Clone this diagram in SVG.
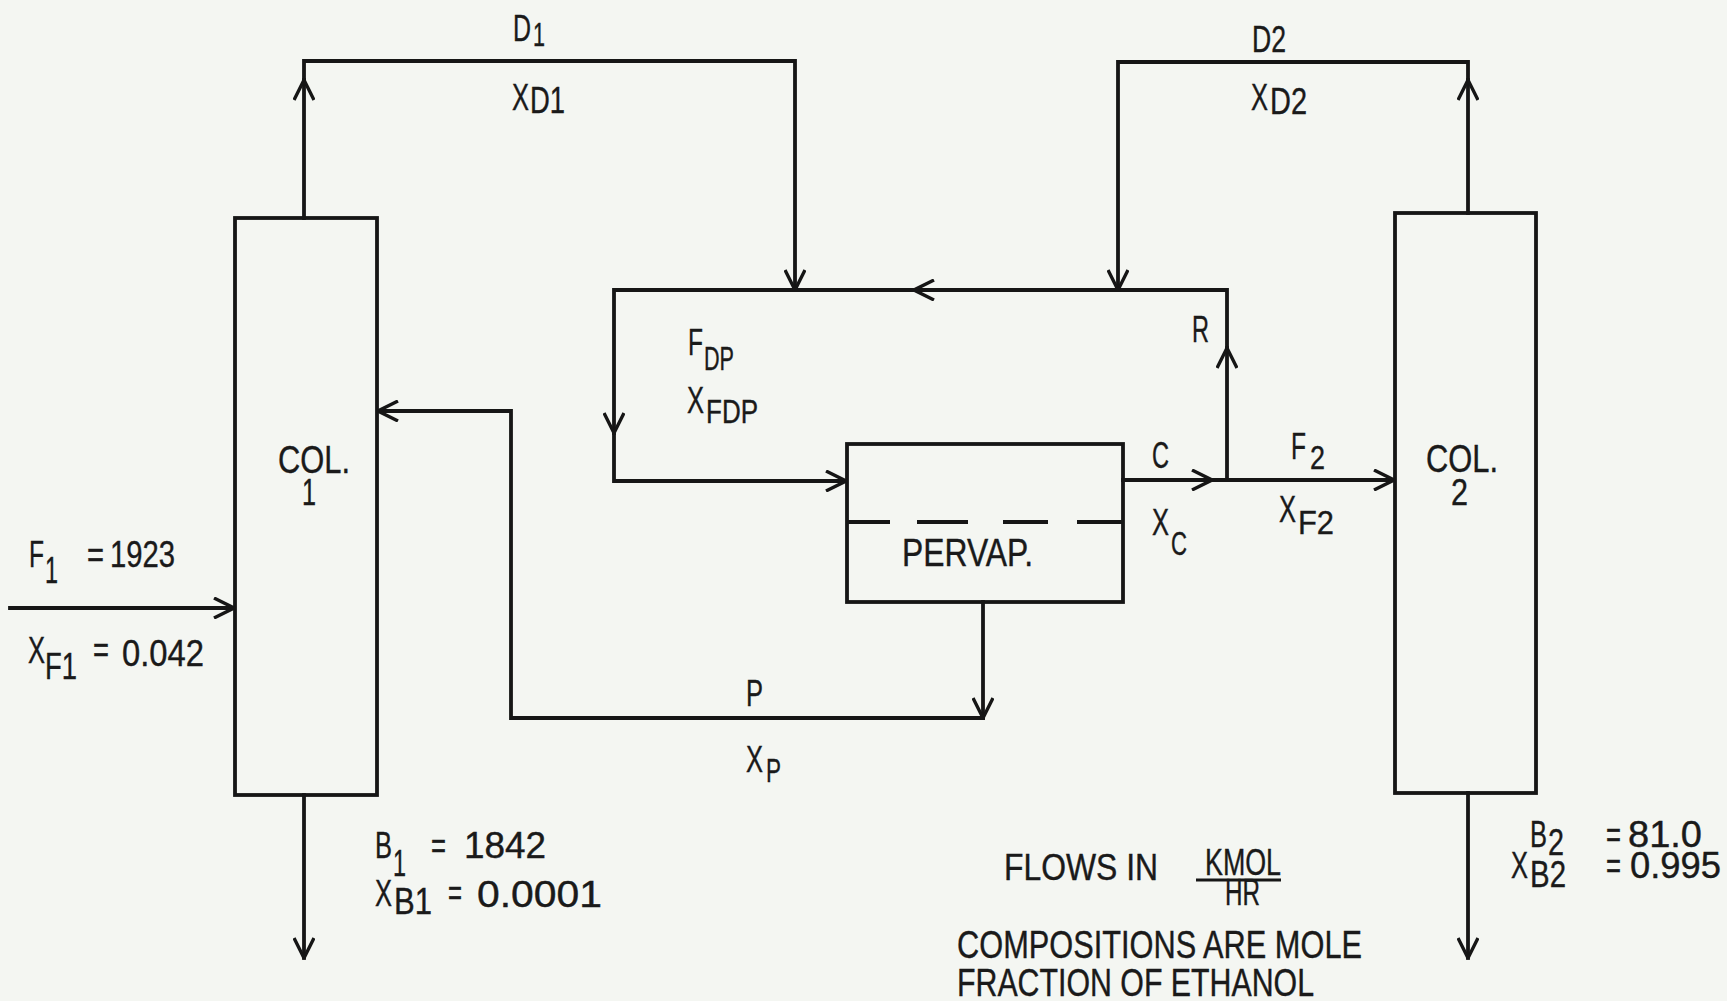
<svg xmlns="http://www.w3.org/2000/svg" width="1727" height="1001" viewBox="0 0 1727 1001">
<style>
.ln{fill:none;stroke:#161616;stroke-width:3.8;stroke-linejoin:miter;stroke-linecap:square}
.box{fill:none;stroke:#161616;stroke-width:3.8}
.t{font-family:"Liberation Sans Narrow","Liberation Sans",Arial,sans-serif;fill:#1a1a1a;font-size:36px;stroke:#1a1a1a;stroke-width:0.4}
.s{font-size:34px}
.big{font-size:39px}
</style>
<defs>
<marker id="arr" viewBox="0 0 22 22" refX="21" refY="11" markerWidth="22" markerHeight="22" markerUnits="userSpaceOnUse" orient="auto">
<path d="M1,1 L21,11 L1,21" fill="none" stroke="#161616" stroke-width="3.4"/>
</marker>
</defs>
<rect width="1727" height="1001" fill="#f4f6f2"/>

<g id="connectors">
<path class="ln" d="M304,218 V80" marker-end="url(#arr)"/>
<path class="ln" d="M304,80 V61 H795 V290" marker-end="url(#arr)"/>
<path class="ln" d="M1468,213 V80" marker-end="url(#arr)"/>
<path class="ln" d="M1468,80 V62 H1118 V290" marker-end="url(#arr)"/>
<path class="ln" d="M1227,480 V348" marker-end="url(#arr)"/>
<path class="ln" d="M1227,348 V290 H914" marker-end="url(#arr)"/>
<path class="ln" d="M914,290 H614 V433" marker-end="url(#arr)"/>
<path class="ln" d="M614,433 V481 H846" marker-end="url(#arr)"/>
<path class="ln" d="M1123,480 H1212" marker-end="url(#arr)"/>
<path class="ln" d="M1212,480 H1394" marker-end="url(#arr)"/>
<path class="ln" d="M983,602 V718" marker-end="url(#arr)"/>
<path class="ln" d="M983,718 H511 V411 H378" marker-end="url(#arr)"/>
<path class="ln" d="M10,608 H234" marker-end="url(#arr)"/>
<path class="ln" d="M304,795 V958" marker-end="url(#arr)"/>
<path class="ln" d="M1468,793 V958" marker-end="url(#arr)"/>
</g>

<g id="col1">
<rect class="box" x="235" y="218" width="142" height="577"/>
<text class="t big" x="278" y="473" textLength="72" lengthAdjust="spacingAndGlyphs">COL.</text>
<text class="t" x="302" y="505" textLength="14" lengthAdjust="spacingAndGlyphs">1</text>
</g>

<g id="col2">
<rect class="box" x="1395" y="213" width="141" height="580"/>
<text class="t big" x="1426" y="472" textLength="72" lengthAdjust="spacingAndGlyphs">COL.</text>
<text class="t" x="1451" y="505" textLength="17" lengthAdjust="spacingAndGlyphs">2</text>
</g>

<g id="pervap">
<rect class="box" x="847" y="444" width="276" height="158"/>
<path d="M847,522 H1123" fill="none" stroke="#161616" stroke-width="3.8" stroke-dasharray="43 27 51 35 45 29 46"/>
<text class="t big" x="902" y="566" textLength="131" lengthAdjust="spacingAndGlyphs">PERVAP.</text>
</g>

<g id="labels">
<text class="t" x="513" y="41" textLength="18" lengthAdjust="spacingAndGlyphs">D</text>
<text class="t s" x="533" y="46" textLength="12" lengthAdjust="spacingAndGlyphs">1</text>
<text class="t" x="512" y="110" textLength="17" lengthAdjust="spacingAndGlyphs">X</text>
<text class="t" x="530" y="113" textLength="35" lengthAdjust="spacingAndGlyphs">D1</text>

<text class="t" x="1252" y="52" textLength="34" lengthAdjust="spacingAndGlyphs">D2</text>
<text class="t" x="1251" y="110" textLength="17" lengthAdjust="spacingAndGlyphs">X</text>
<text class="t" x="1270" y="114" textLength="37" lengthAdjust="spacingAndGlyphs">D2</text>

<text class="t" x="688" y="355" textLength="15" lengthAdjust="spacingAndGlyphs">F</text>
<text class="t s" x="704" y="370" textLength="30" lengthAdjust="spacingAndGlyphs">DP</text>
<text class="t" x="687" y="413" textLength="17" lengthAdjust="spacingAndGlyphs">X</text>
<text class="t s" x="706" y="423" textLength="52" lengthAdjust="spacingAndGlyphs">FDP</text>

<text class="t" x="1192" y="342" textLength="17" lengthAdjust="spacingAndGlyphs">R</text>

<text class="t" x="1152" y="468" textLength="17" lengthAdjust="spacingAndGlyphs">C</text>
<text class="t" x="1152" y="535" textLength="17" lengthAdjust="spacingAndGlyphs">X</text>
<text class="t s" x="1171" y="555" textLength="16" lengthAdjust="spacingAndGlyphs">C</text>

<text class="t" x="1291" y="459" textLength="15" lengthAdjust="spacingAndGlyphs">F</text>
<text class="t s" x="1310" y="469" textLength="15" lengthAdjust="spacingAndGlyphs">2</text>
<text class="t" x="1279" y="522" textLength="17" lengthAdjust="spacingAndGlyphs">X</text>
<text class="t s" x="1298" y="534" textLength="36" lengthAdjust="spacingAndGlyphs">F2</text>

<text class="t" x="746" y="706" textLength="17" lengthAdjust="spacingAndGlyphs">P</text>
<text class="t" x="746" y="772" textLength="17" lengthAdjust="spacingAndGlyphs">X</text>
<text class="t s" x="766" y="782" textLength="15" lengthAdjust="spacingAndGlyphs">P</text>

<text class="t" x="29" y="567" textLength="15" lengthAdjust="spacingAndGlyphs">F</text>
<text class="t" x="45" y="583" textLength="13" lengthAdjust="spacingAndGlyphs">1</text>
<text class="t" x="87" y="567" textLength="17" lengthAdjust="spacingAndGlyphs">=</text>
<text class="t" x="110" y="567" textLength="65" lengthAdjust="spacingAndGlyphs">1923</text>
<text class="t" x="28" y="663" textLength="17" lengthAdjust="spacingAndGlyphs">X</text>
<text class="t" x="45" y="679" textLength="32" lengthAdjust="spacingAndGlyphs">F1</text>
<text class="t" x="93" y="662" textLength="16" lengthAdjust="spacingAndGlyphs">=</text>
<text class="t" x="122" y="666" textLength="82" lengthAdjust="spacingAndGlyphs">0.042</text>

<text class="t" x="375" y="858" textLength="17" lengthAdjust="spacingAndGlyphs">B</text>
<text class="t" x="393" y="876" textLength="13" lengthAdjust="spacingAndGlyphs">1</text>
<text class="t" x="431" y="858" textLength="15" lengthAdjust="spacingAndGlyphs">=</text>
<text class="t" x="464" y="858" textLength="82" lengthAdjust="spacingAndGlyphs">1842</text>
<text class="t" x="375" y="906" textLength="17" lengthAdjust="spacingAndGlyphs">X</text>
<text class="t" x="394" y="914" textLength="38" lengthAdjust="spacingAndGlyphs">B1</text>
<text class="t" x="448" y="905" textLength="14" lengthAdjust="spacingAndGlyphs">=</text>
<text class="t" x="477" y="907" textLength="125" lengthAdjust="spacingAndGlyphs">0.0001</text>

<text class="t" x="1530" y="847" textLength="17" lengthAdjust="spacingAndGlyphs">B</text>
<text class="t" x="1548" y="855" textLength="16" lengthAdjust="spacingAndGlyphs">2</text>
<text class="t" x="1606" y="847" textLength="15" lengthAdjust="spacingAndGlyphs">=</text>
<text class="t" x="1628" y="847" textLength="74" lengthAdjust="spacingAndGlyphs">81.0</text>
<text class="t" x="1511" y="878" textLength="17" lengthAdjust="spacingAndGlyphs">X</text>
<text class="t" x="1530" y="887" textLength="36" lengthAdjust="spacingAndGlyphs">B2</text>
<text class="t" x="1606" y="878" textLength="15" lengthAdjust="spacingAndGlyphs">=</text>
<text class="t" x="1630" y="878" textLength="91" lengthAdjust="spacingAndGlyphs">0.995</text>

<text class="t" x="1004" y="880" font-size="37" textLength="154" lengthAdjust="spacingAndGlyphs">FLOWS IN</text>
<text class="t" x="1205" y="875" font-size="36" textLength="76" lengthAdjust="spacingAndGlyphs">KMOL</text>
<line x1="1196" y1="880" x2="1281" y2="880" stroke="#161616" stroke-width="2.8"/>
<text class="t" x="1225" y="905" font-size="32" textLength="35" lengthAdjust="spacingAndGlyphs">HR</text>
<text class="t big" x="957" y="958" textLength="405" lengthAdjust="spacingAndGlyphs">COMPOSITIONS ARE MOLE</text>
<text class="t big" x="957" y="996" textLength="357" lengthAdjust="spacingAndGlyphs">FRACTION OF ETHANOL</text>
</g>
</svg>
